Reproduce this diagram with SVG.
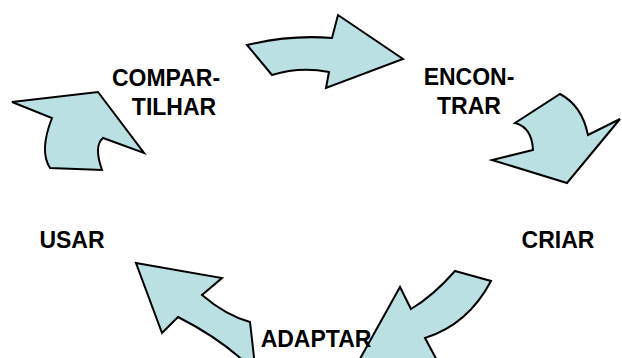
<svg xmlns="http://www.w3.org/2000/svg" width="622" height="358" viewBox="0 0 622 358">
  <style>
    .arrow { fill: #BBE0E3; stroke: #000; stroke-width: 2; stroke-linejoin: miter; }
    .label { font-family: "Liberation Sans", Arial, sans-serif; font-weight: bold; font-size: 23px; fill: #000; text-anchor: middle; }
  </style>
  <rect width="622" height="358" fill="#fff"/>
  <g id="connectors">
    <!-- COMPARTILHAR to ENCONTRAR -->
    <path id="arrow-top" class="arrow" d="M247,45 Q290.5,34.5 332,38 L338,15 L403,59 L326,88 L329,72 Q299.5,66.5 272,75 Z"/>
    <!-- ENCONTRAR to CRIAR -->
    <path id="arrow-right" class="arrow" d="M515,123 L560,94 Q582,105.5 588,135 L620,119 L567,183 L492,160 L533,150 Q532,127.5 515,123 Z"/>
    <!-- CRIAR to ADAPTAR -->
    <path id="arrow-bottom-right" class="arrow" d="M455,271 L491,281 Q468,324.5 425,338 L440,366 L356,366 L400,287 L411,309 Q433,296 455,271 Z"/>
    <!-- ADAPTAR to USAR -->
    <path id="arrow-bottom-left" class="arrow" d="M136,263 L222,278 L202,295 Q226,315.5 250,322 L255,366 L249,366 Q220.5,338.5 178,317 L162,333 Z"/>
    <!-- USAR to COMPARTILHAR -->
    <path id="arrow-left" class="arrow" d="M12,102 L98,92 L144,153 L103,138 Q93.5,146 102,170 L50,168 Q39,151 52,118 Z"/>
  </g>
  <g id="node-compartilhar">
    <text class="label" x="166" y="86">COMPAR-</text>
    <text class="label" x="174" y="115">TILHAR</text>
  </g>
  <g id="node-encontrar">
    <text class="label" x="469" y="85">ENCON-</text>
    <text class="label" x="469" y="114">TRAR</text>
  </g>
  <g id="node-criar">
    <text class="label" x="558" y="248">CRIAR</text>
  </g>
  <g id="node-adaptar">
    <text class="label" x="316" y="347">ADAPTAR</text>
  </g>
  <g id="node-usar">
    <text class="label" x="72" y="248">USAR</text>
  </g>
</svg>
